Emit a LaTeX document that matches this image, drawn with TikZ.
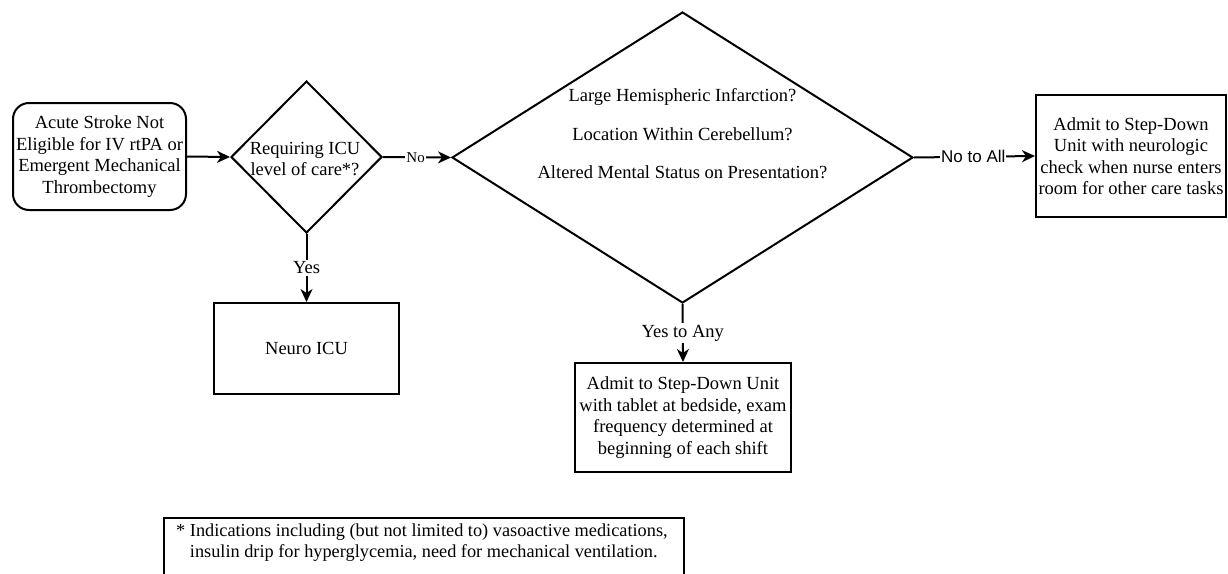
\documentclass[tikz,border=0pt]{standalone}
\usepackage{fontspec}
\setmainfont{Liberation Serif}
\newfontfamily\arialf{Liberation Sans}
\usetikzlibrary{shapes.geometric,arrows.meta}
\begin{document}
\begin{tikzpicture}[x=1pt,y=-1pt,
  every node/.style={font=\fontsize{18.5}{21.5}\selectfont},
  box/.style={draw,line width=2pt,inner sep=0pt,align=center},
  rbox/.style={box,rounded corners=16pt},
  dia/.style={draw,line width=2pt,diamond,inner sep=0pt},
  txt/.style={align=center,inner sep=0pt},
  lab/.style={fill=white,inner sep=1.5pt},
  arr/.style={line width=2pt,-{Stealth[length=13pt,width=12pt,inset=4pt]}}]
\useasboundingbox (0,0) rectangle (1228,573);
\clip (0,0) rectangle (1228,573);

\node[rbox,minimum width=173pt,minimum height=107pt] (start) at (99.5,156.5)
  {Acute Stroke Not\\Eligible for IV rtPA or\\Emergent Mechanical\\Thrombectomy};

\node[dia,minimum width=151pt,minimum height=152pt] (q1) at (306.5,157) {};
\node[txt] (q1t) at (305,159) {Requiring ICU\\level of care*?};

\node[box,minimum width=185pt,minimum height=91pt] (icu) at (306.5,348.5) {Neuro ICU};

\node[dia,minimum width=461pt,minimum height=291pt] (q2) at (682.5,157.5) {};
\node[txt] (q2t) at (682.5,134) {Large Hemispheric Infarction?\\[17pt]Location Within Cerebellum?\\[17pt]Altered Mental Status on Presentation?};

\node[box,minimum width=190pt,minimum height=122pt] (ra) at (1131,156)
  {Admit to Step-Down\\Unit with neurologic\\check when nurse enters\\room for other care tasks};

\node[box,minimum width=216pt,minimum height=109pt] (sd) at (683,417.5)
  {Admit to Step-Down Unit\\with tablet at bedside, exam\\frequency determined at\\beginning of each shift};

\node[box,anchor=north west,minimum width=520pt,minimum height=80pt,line width=1.6pt] (fn) at (163,517) {};
\node[anchor=north west,align=left,inner sep=0pt,font=\fontsize{18.3}{20.5}\selectfont] (fnt) at (176,524)
  {* Indications including (but not limited to) vasoactive medications,\\
  \hphantom{* }insulin drip for hyperglycemia, need for mechanical ventilation.};

\draw[arr] (start.east) -- (q1.west);
\draw[arr] (q1.south) -- node[lab,pos=0.5] (ly) {Yes} (icu.north);
\draw[arr] (q1.east) -- node[lab,pos=0.48,inner sep=1pt,font=\fontsize{15}{15}\selectfont] (ln) {No} (q2.west);
\draw[arr] (q2.east) -- node[lab,pos=0.49,inner sep=1pt,font=\arialf\fontsize{17}{17}\selectfont] (lna) {No to All} (ra.west);
\draw[arr] (q2.south) -- node[lab,pos=0.5] (lya) {Yes to Any} (sd.north);
\end{tikzpicture}
\end{document}
